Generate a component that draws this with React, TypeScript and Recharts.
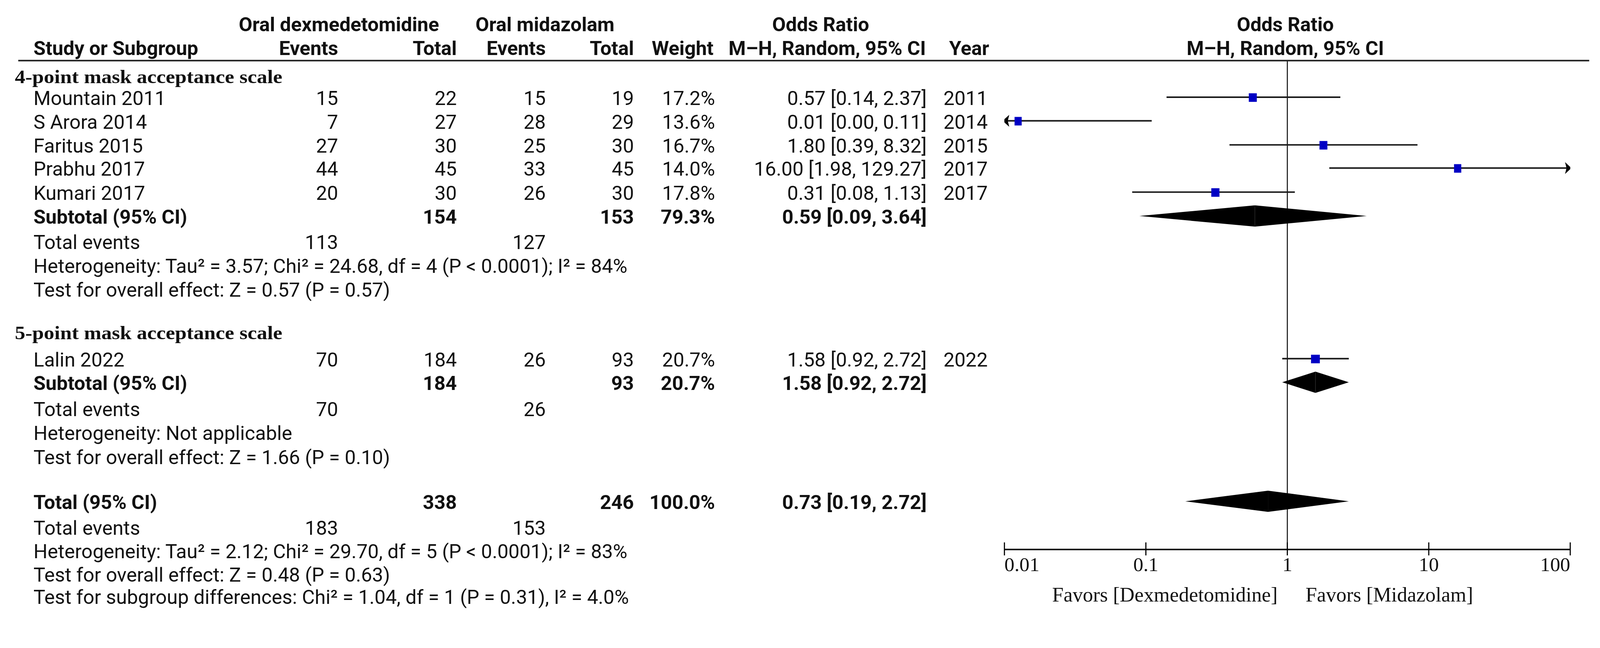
import React, { useState, useEffect } from "react";
import { ComposedChart, XAxis, YAxis, Scatter, ReferenceLine, ReferenceArea } from "recharts";

// ---- values ----
const studyNames = ["Mountain 2011", "S Arora 2014", "Faritus 2015", "Prabhu 2017", "Kumari 2017", "Lalin 2022"];
const studyGroup = [0, 0, 0, 0, 0, 1];
const dexEvents = [15, 7, 27, 44, 20, 70];
const dexTotal = [22, 27, 30, 45, 30, 184];
const midEvents = [15, 28, 25, 33, 26, 26];
const midTotal = [19, 29, 30, 45, 30, 93];
const weights = [17.2, 13.6, 16.7, 14.0, 17.8, 20.7];
const oddsRatio = [0.57, 0.0125, 1.8, 16.0, 0.31, 1.58];
const ciLow = [0.14, 0.0014, 0.39, 1.98, 0.08, 0.92];
const ciHigh = [2.37, 0.11, 8.32, 129.27, 1.13, 2.72];
const years = [2011, 2014, 2015, 2017, 2017, 2022];

const groupNames = ["4-point mask acceptance scale", "5-point mask acceptance scale"];
const groupDexTotal = [154, 184];
const groupMidTotal = [153, 93];
const groupWeight = [79.3, 20.7];
const groupOr = [0.59, 1.58];
const groupLow = [0.09, 0.92];
const groupHigh = [3.64, 2.72];
const groupDexEvents = [113, 70];
const groupMidEvents = [127, 26];
const groupHet = [
  "Heterogeneity: Tau\u00b2 = 3.57; Chi\u00b2 = 24.68, df = 4 (P < 0.0001); I\u00b2 = 84%",
  "Heterogeneity: Not applicable",
];
const groupEffect = ["Test for overall effect: Z = 0.57 (P = 0.57)", "Test for overall effect: Z = 1.66 (P = 0.10)"];

const totalDex = 338;
const totalMid = 246;
const totalWeight = 100.0;
const totalOr = 0.73;
const totalLow = 0.19;
const totalHigh = 2.72;
const totalDexEvents = 183;
const totalMidEvents = 153;
const totalHet = "Heterogeneity: Tau\u00b2 = 2.12; Chi\u00b2 = 29.70, df = 5 (P < 0.0001); I\u00b2 = 83%";
const totalEffect = "Test for overall effect: Z = 0.48 (P = 0.63)";
const subgroupTest = "Test for subgroup differences: Chi\u00b2 = 1.04, df = 1 (P = 0.31), I\u00b2 = 4.0%";

const xTicks = [0.01, 0.1, 1, 10, 100];
const favorsLeft = "Favors [Dexmedetomidine]";
const favorsRight = "Favors [Midazolam]";

// ---- layout ----
const W = 4301;
const H = 1660;
const LEFT = 2700;
const RIGHT = 80;
const TOP = 163;
const AXIS_H = 182;
const PLOT_BOTTOM = H - AXIS_H;
const ROWS = 20.7;
const rowPx = (r: number) => TOP + (r * (PLOT_BOTTOM - TOP)) / ROWS;

const studySlot = [1.55, 2.55, 3.57, 4.55, 5.57, 12.62];
const groupSlot = [0.63, 11.46];
const subtotalSlot = [6.58, 13.62];
const footSlot = [
  [7.65, 8.66, 9.67],
  [14.73, 15.73, 16.76],
];
const totalSlot = 18.66;
const totalFootSlot = [19.75, 20.74, 21.73, 22.68];

const SANS = "Roboto, 'Liberation Sans', sans-serif";
const SERIF = "'Liberation Serif', 'Times New Roman', serif";
const FS = 53;
const BASE = 21;

const COL = { name: 90, group: 40, e1: 909, t1: 1228, e2: 1467, t2: 1704, wt: 1922, ci: 2491, year: 2536 };

const lo = 0.01;
const hi = 100;
const fmtCi = (o: number, l: number, h: number) => `${o.toFixed(2)} [${l.toFixed(2)}, ${h.toFixed(2)}]`;
const fmtW = (w: number) => `${w.toFixed(1)}%`;

const studyPoints = studyNames.map((_, i) => ({ x: oddsRatio[i], y: studySlot[i], w: weights[i] }));
const leftArrows = studyNames
  .map((_, i) => ({ x: lo, y: studySlot[i], on: ciLow[i] < lo }))
  .filter((d) => d.on);
const rightArrows = studyNames
  .map((_, i) => ({ x: hi, y: studySlot[i], on: ciHigh[i] > hi }))
  .filter((d) => d.on);

const diamonds = [
  ...groupOr.map((o, i) => ({ o, l: groupLow[i], h: groupHigh[i], r: subtotalSlot[i] })),
  { o: totalOr, l: totalLow, h: totalHigh, r: totalSlot },
];

function Square(p: any) {
  const w = 5.2 * Math.sqrt(p.payload?.w ?? p.w ?? 16);
  const h = 23;
  return <rect x={p.cx - w / 2} y={p.cy - h / 2 + 1} width={w} height={h} fill="#0000c4" />;
}

function LeftArrow(p: any) {
  const { cx, cy } = p;
  return <polygon points={`${cx - 5},${cy} ${cx + 13},${cy - 16} ${cx + 9},${cy} ${cx + 13},${cy + 16}`} fill="#000" />;
}

function RightArrow(p: any) {
  const { cx, cy } = p;
  return <polygon points={`${cx + 3},${cy} ${cx - 14},${cy - 16} ${cx - 10},${cy} ${cx - 14},${cy + 16}`} fill="#000" />;
}

function LeftHalf(p: any) {
  const { x, y, width, height } = p;
  return <polygon points={`${x},${y + height / 2} ${x + width},${y} ${x + width},${y + height}`} fill="#000" />;
}

function RightHalf(p: any) {
  const { x, y, width, height } = p;
  return <polygon points={`${x},${y} ${x + width},${y + height / 2} ${x},${y + height}`} fill="#000" />;
}

function AxisTick(p: any) {
  const { x, y, payload } = p;
  const v = payload.value;
  const anchor = v === xTicks[0] ? "start" : v === xTicks[xTicks.length - 1] ? "end" : "middle";
  return (
    <g>
      <line x1={x} x2={x} y1={y - 19} y2={y + 16} stroke="#000" strokeWidth={3} />
      <text x={x} y={y + 58} textAnchor={anchor} fontFamily={SERIF} fontSize={54} fill="#111">
        {String(v)}
      </text>
      {v === 1 && (
        <>
          <text x={x - 26} y={y + 140} textAnchor="end" fontFamily={SERIF} fontSize={55} fill="#111">
            {favorsLeft}
          </text>
          <text x={x + 49} y={y + 140} textAnchor="start" fontFamily={SERIF} fontSize={55} fill="#111">
            {favorsRight}
          </text>
        </>
      )}
    </g>
  );
}

function T({ x, r, y, anchor = "start", bold = false, children }: any) {
  return (
    <text
      x={x}
      y={y ?? rowPx(r) + BASE}
      textAnchor={anchor}
      fontWeight={bold ? 700 : 400}
      fontFamily={SANS}
      fontSize={FS}
      fill="#111"
    >
      {children}
    </text>
  );
}

function Table() {
  return (
    <svg width={W} height={H} style={{ position: "absolute", left: 0, top: 0, pointerEvents: "none" }}>
      <T x={911} y={84} anchor="middle" bold>Oral dexmedetomidine</T>
      <T x={1465} y={84} anchor="middle" bold>Oral midazolam</T>
      <T x={2206} y={84} anchor="middle" bold>Odds Ratio</T>
      <T x={3455} y={84} anchor="middle" bold>Odds Ratio</T>
      <T x={COL.name} y={148} bold>Study or Subgroup</T>
      <T x={COL.e1} y={148} anchor="end" bold>Events</T>
      <T x={COL.t1} y={148} anchor="end" bold>Total</T>
      <T x={COL.e2} y={148} anchor="end" bold>Events</T>
      <T x={COL.t2} y={148} anchor="end" bold>Total</T>
      <T x={COL.wt - 4} y={148} anchor="end" bold>Weight</T>
      <T x={COL.ci - 2} y={148} anchor="end" bold>M–H, Random, 95% CI</T>
      <T x={2659} y={148} anchor="end" bold>Year</T>
      <T x={3455} y={148} anchor="middle" bold>M–H, Random, 95% CI</T>
      <line x1={49} x2={4272} y1={TOP} y2={TOP} stroke="#222" strokeWidth={4} />

      {groupNames.map((g, gi) => (
        <g key={g}>
          <text
            x={COL.group}
            y={rowPx(groupSlot[gi]) + BASE}
            fontFamily={SERIF}
            fontWeight={700}
            fontSize={50}
            textLength={719}
            lengthAdjust="spacingAndGlyphs"
            fill="#111"
          >
            {g}
          </text>
          {studyNames.map((s, i) =>
            studyGroup[i] !== gi ? null : (
              <g key={s}>
                <T x={COL.name} r={studySlot[i]}>{s}</T>
                <T x={COL.e1} r={studySlot[i]} anchor="end">{dexEvents[i]}</T>
                <T x={COL.t1} r={studySlot[i]} anchor="end">{dexTotal[i]}</T>
                <T x={COL.e2} r={studySlot[i]} anchor="end">{midEvents[i]}</T>
                <T x={COL.t2} r={studySlot[i]} anchor="end">{midTotal[i]}</T>
                <T x={COL.wt} r={studySlot[i]} anchor="end">{fmtW(weights[i])}</T>
                <T x={COL.ci} r={studySlot[i]} anchor="end">{fmtCi(oddsRatio[i], ciLow[i], ciHigh[i])}</T>
                <T x={COL.year} r={studySlot[i]}>{years[i]}</T>
              </g>
            )
          )}
          <T x={COL.name} r={subtotalSlot[gi]} bold>Subtotal (95% CI)</T>
          <T x={COL.t1} r={subtotalSlot[gi]} anchor="end" bold>{groupDexTotal[gi]}</T>
          <T x={COL.t2} r={subtotalSlot[gi]} anchor="end" bold>{groupMidTotal[gi]}</T>
          <T x={COL.wt} r={subtotalSlot[gi]} anchor="end" bold>{fmtW(groupWeight[gi])}</T>
          <T x={COL.ci} r={subtotalSlot[gi]} anchor="end" bold>{fmtCi(groupOr[gi], groupLow[gi], groupHigh[gi])}</T>
          <T x={COL.name} r={footSlot[gi][0]}>Total events</T>
          <T x={COL.e1} r={footSlot[gi][0]} anchor="end">{groupDexEvents[gi]}</T>
          <T x={COL.e2} r={footSlot[gi][0]} anchor="end">{groupMidEvents[gi]}</T>
          <T x={COL.name} r={footSlot[gi][1]}>{groupHet[gi]}</T>
          <T x={COL.name} r={footSlot[gi][2]}>{groupEffect[gi]}</T>
        </g>
      ))}

      <T x={COL.name} r={totalSlot} bold>Total (95% CI)</T>
      <T x={COL.t1} r={totalSlot} anchor="end" bold>{totalDex}</T>
      <T x={COL.t2} r={totalSlot} anchor="end" bold>{totalMid}</T>
      <T x={COL.wt} r={totalSlot} anchor="end" bold>{fmtW(totalWeight)}</T>
      <T x={COL.ci} r={totalSlot} anchor="end" bold>{fmtCi(totalOr, totalLow, totalHigh)}</T>
      <T x={COL.name} r={totalFootSlot[0]}>Total events</T>
      <T x={COL.e1} r={totalFootSlot[0]} anchor="end">{totalDexEvents}</T>
      <T x={COL.e2} r={totalFootSlot[0]} anchor="end">{totalMidEvents}</T>
      <T x={COL.name} r={totalFootSlot[1]}>{totalHet}</T>
      <T x={COL.name} r={totalFootSlot[2]}>{totalEffect}</T>
      <T x={COL.name} r={totalFootSlot[3]}>{subgroupTest}</T>
    </svg>
  );
}

// fit the fixed 4301x1660 drawing into whatever CSS viewport the page gets
function viewScale() {
  if (typeof window === "undefined") return 1;
  const vw = document.documentElement.clientWidth || window.innerWidth || W;
  const vh = document.documentElement.clientHeight || window.innerHeight || H;
  const s = Math.min(vw / W, vh / H);
  return s > 0.3 && s < 3 ? s : 1;
}

export default function App() {
  const [s, setS] = useState(viewScale);
  useEffect(() => {
    const f = () => setS(viewScale());
    f();
    window.addEventListener("resize", f);
    return () => window.removeEventListener("resize", f);
  }, []);

  return (
    <div style={{ width: W * s, height: H * s, overflow: "hidden", background: "#fff" }}>
      <style>{"html,body{margin:0;padding:0;overflow:hidden;background:#fff}"}</style>
      <div style={{ position: "relative", width: W, height: H, transform: `scale(${s})`, transformOrigin: "0 0" }}>
        <ComposedChart width={W} height={H} margin={{ top: TOP, right: RIGHT, left: LEFT, bottom: 0 }}>
          <XAxis
            dataKey="x"
            type="number"
            scale="log"
            domain={[lo, hi]}
            ticks={xTicks}
            interval={0}
            allowDataOverflow
            height={AXIS_H}
            tickSize={0}
            tickMargin={0}
            tickLine={false}
            axisLine={{ stroke: "#000", strokeWidth: 4 }}
            tick={(p: any) => <AxisTick {...p} />}
          />
          <YAxis dataKey="y" type="number" domain={[0, ROWS]} reversed hide allowDataOverflow />
          <ReferenceLine x={1} stroke="#000" strokeWidth={2.5} />
          {studyNames.map((n, i) => (
            <ReferenceLine
              key={n}
              segment={[
                { x: Math.max(ciLow[i], lo), y: studySlot[i] },
                { x: Math.min(ciHigh[i], hi), y: studySlot[i] },
              ]}
              stroke="#1a1a1a"
              strokeWidth={4}
            />
          ))}
          {diamonds.map((d, i) => (
            <ReferenceArea key={`l${i}`} x1={d.l} x2={d.o} y1={d.r - 0.45} y2={d.r + 0.45} shape={(p: any) => <LeftHalf {...p} />} />
          ))}
          {diamonds.map((d, i) => (
            <ReferenceArea key={`r${i}`} x1={d.o} x2={d.h} y1={d.r - 0.45} y2={d.r + 0.45} shape={(p: any) => <RightHalf {...p} />} />
          ))}
          <Scatter data={studyPoints} isAnimationActive={false} shape={(p: any) => <Square {...p} />} />
          <Scatter data={leftArrows} isAnimationActive={false} shape={(p: any) => <LeftArrow {...p} />} />
          <Scatter data={rightArrows} isAnimationActive={false} shape={(p: any) => <RightArrow {...p} />} />
        </ComposedChart>
        <Table />
      </div>
    </div>
  );
}
